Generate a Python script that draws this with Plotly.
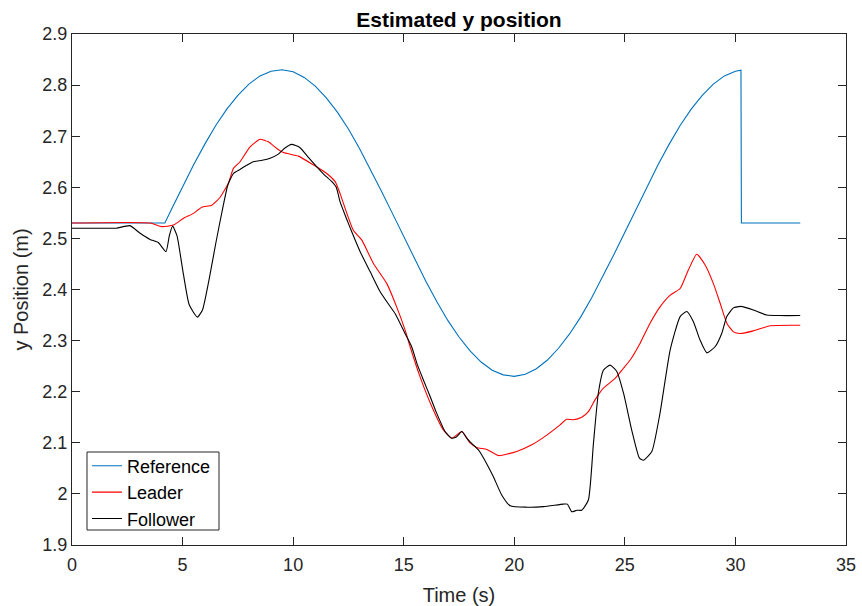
import plotly.graph_objects as go

# ---- data ----
ref_t = [0, 4.2, 4.5, 5, 5.5, 6, 6.5, 7, 7.5, 8, 8.5, 9, 9.5, 10, 10.5, 11, 11.5, 12, 12.5, 13,
         13.5, 14, 14.5, 15, 15.5, 16, 16.5, 17, 17.5, 18, 18.5, 19, 19.5, 20, 20.5, 21, 21.5,
         22, 22.5, 23, 23.5, 24, 24.5, 25, 25.5, 26, 26.5, 27, 27.5, 28, 28.5, 29, 29.5, 30,
         30.25, 30.27, 32.93]
ref_y = [2.530, 2.530, 2.557, 2.601, 2.644, 2.684, 2.721, 2.753, 2.780, 2.802, 2.818, 2.827,
         2.830, 2.826, 2.815, 2.798, 2.775, 2.747, 2.714, 2.676, 2.635, 2.592, 2.548, 2.503,
         2.459, 2.416, 2.376, 2.339, 2.307, 2.280, 2.258, 2.242, 2.233, 2.230, 2.234, 2.245,
         2.262, 2.285, 2.313, 2.346, 2.384, 2.425, 2.468, 2.512, 2.557, 2.601, 2.644, 2.684,
         2.721, 2.753, 2.780, 2.802, 2.818, 2.827, 2.829, 2.530, 2.530]

lead_t = [0, 3.53, 4.06, 4.58, 5.03, 5.49, 5.87, 6.32, 6.69, 7.07, 7.3, 7.6, 8.05, 8.5, 8.88,
          9.26, 9.56, 10.24, 10.91, 11.52, 11.9, 12.12, 12.27, 12.72, 13.1, 13.63, 14.23,
          14.68, 15.06, 15.29, 15.74, 16.34, 16.79, 17.17, 17.63, 18.0, 18.3, 18.76, 19.28,
          20.11, 20.79, 21.47, 22.07, 22.37, 22.67, 23.05, 23.35, 23.65, 24.03, 24.56, 24.94,
          25.24, 25.69, 26.14, 26.59, 27.05, 27.5, 27.87, 28.25, 28.63, 29.0, 29.31, 29.61,
          29.91, 30.21, 30.81, 31.57, 32.93]
lead_y = [2.530, 2.530, 2.523, 2.526, 2.539, 2.549, 2.561, 2.565, 2.580, 2.608, 2.637, 2.650,
          2.679, 2.694, 2.689, 2.676, 2.668, 2.661, 2.644, 2.627, 2.611, 2.588, 2.569, 2.516,
          2.497, 2.451, 2.412, 2.366, 2.321, 2.288, 2.229, 2.164, 2.125, 2.109, 2.122, 2.100,
          2.091, 2.087, 2.075, 2.083, 2.096, 2.115, 2.135, 2.146, 2.145, 2.150, 2.161, 2.184,
          2.207, 2.226, 2.246, 2.262, 2.295, 2.334, 2.366, 2.389, 2.402, 2.438, 2.469, 2.448,
          2.412, 2.373, 2.334, 2.317, 2.314, 2.319, 2.329, 2.330]

foll_t = [0, 1.0, 2.0, 2.62, 3.08, 3.53, 3.9, 4.25, 4.4, 4.55, 4.75, 5.0, 5.3, 5.67, 5.9, 6.2,
          6.5, 6.8, 7.05, 7.3, 7.6, 7.9, 8.2, 8.6, 8.96, 9.33, 9.6, 9.93, 10.3, 10.7, 11.07,
          11.4, 11.75, 11.95, 12.12, 12.4, 12.65, 13.03, 13.48, 13.93, 14.3, 14.61, 15.06,
          15.36, 15.6, 15.89, 16.2, 16.49, 16.87, 17.17, 17.4, 17.63, 17.85, 18.0, 18.38,
          18.53, 18.8, 19.05, 19.43, 19.81, 20.56, 21.32, 22.22, 22.4, 22.6, 22.83, 23.05,
          23.35, 23.58, 23.8, 24.03, 24.33, 24.63, 24.94, 25.31, 25.66, 25.84, 26.22, 26.59,
          27.05, 27.5, 27.8, 28.1, 28.4, 28.71, 29.08, 29.38, 29.61, 29.91, 30.25, 30.81,
          31.42, 32.02, 32.93]
foll_y = [2.520, 2.520, 2.520, 2.525, 2.510, 2.498, 2.492, 2.474, 2.505, 2.524, 2.505, 2.440,
          2.370, 2.346, 2.360, 2.420, 2.490, 2.556, 2.605, 2.627, 2.635, 2.643, 2.650, 2.653,
          2.657, 2.665, 2.676, 2.684, 2.678, 2.658, 2.640, 2.625, 2.611, 2.600, 2.572, 2.540,
          2.513, 2.474, 2.435, 2.396, 2.372, 2.353, 2.314, 2.288, 2.255, 2.223, 2.190, 2.158,
          2.122, 2.109, 2.112, 2.122, 2.109, 2.102, 2.086, 2.076, 2.055, 2.034, 1.998, 1.977,
          1.974, 1.975, 1.980, 1.980, 1.965, 1.968, 1.968, 1.988, 2.099, 2.197, 2.242, 2.252,
          2.240, 2.197, 2.125, 2.070, 2.066, 2.083, 2.158, 2.282, 2.347, 2.357, 2.337, 2.301,
          2.276, 2.288, 2.314, 2.347, 2.364, 2.367, 2.360, 2.350, 2.349, 2.349]

x_ticks = [0, 5, 10, 15, 20, 25, 30, 35]
y_ticks = [1.9, 2.0, 2.1, 2.2, 2.3, 2.4, 2.5, 2.6, 2.7, 2.8, 2.9]
y_tick_text = ["1.9", "2", "2.1", "2.2", "2.3", "2.4", "2.5", "2.6", "2.7", "2.8", "2.9"]

FONT = "Liberation Sans, Arial, Helvetica, sans-serif"
AX = "#262626"

fig = go.Figure()
fig.add_trace(go.Scatter(x=ref_t, y=ref_y, mode="lines", name="Reference",
                         line=dict(color="#0072BD", width=1.1)))
fig.add_trace(go.Scatter(x=lead_t, y=lead_y, mode="lines", name="Leader",
                         line=dict(color="#FF0000", width=1.1, shape="spline", smoothing=0.5)))
fig.add_trace(go.Scatter(x=foll_t, y=foll_y, mode="lines", name="Follower",
                         line=dict(color="#000000", width=1.1, shape="spline", smoothing=0.5)))

axis_common = dict(showline=True, linecolor=AX, linewidth=1, mirror="allticks",
                   ticks="inside", ticklen=8, tickcolor=AX, tickwidth=1,
                   showgrid=False, zeroline=False, automargin=False,
                   tickfont=dict(family=FONT, size=18, color=AX))

# legend frame drawn as a shape (pixel box 87..219 x 452..530)
L, R, T, B = 72, 846, 34, 545
def px_x(p):
    return (p - L) / (R - L)
def px_y(p):
    return (B - p) / (B - T)

fig.add_shape(type="rect", xref="paper", yref="paper",
              x0=px_x(87), x1=px_x(219), y0=px_y(530), y1=px_y(452),
              line=dict(color=AX, width=1), fillcolor="white", layer="above")

fig.update_layout(
    width=862, height=606,
    margin=dict(l=72, r=16, t=34, b=61),
    paper_bgcolor="white", plot_bgcolor="white",
    font=dict(family=FONT, color=AX),
    title=dict(text="<b>Estimated y position</b>", x=0.5325, xanchor="center",
               y=1 - 20 / 606, yanchor="middle", yref="container",
               font=dict(family=FONT, size=21, color="#000000")),
    xaxis=dict(range=[0, 35], tickvals=x_ticks, ticklabelstandoff=3,
               title=dict(text="Time (s)", font=dict(family=FONT, size=20, color=AX), standoff=21),
               **axis_common),
    yaxis=dict(range=[1.9, 2.9], tickvals=y_ticks, ticktext=y_tick_text,
               title=dict(text="y Position (m)", font=dict(family=FONT, size=20, color=AX), standoff=8),
               **axis_common),
    legend=dict(x=px_x(87), y=px_y(447.5), xanchor="left", yanchor="top",
                borderwidth=0, bgcolor="rgba(0,0,0,0)",
                font=dict(family=FONT, size=18, color="#000000"),
                traceorder="normal"),
    showlegend=True,
)

fig.write_html("out.html")
